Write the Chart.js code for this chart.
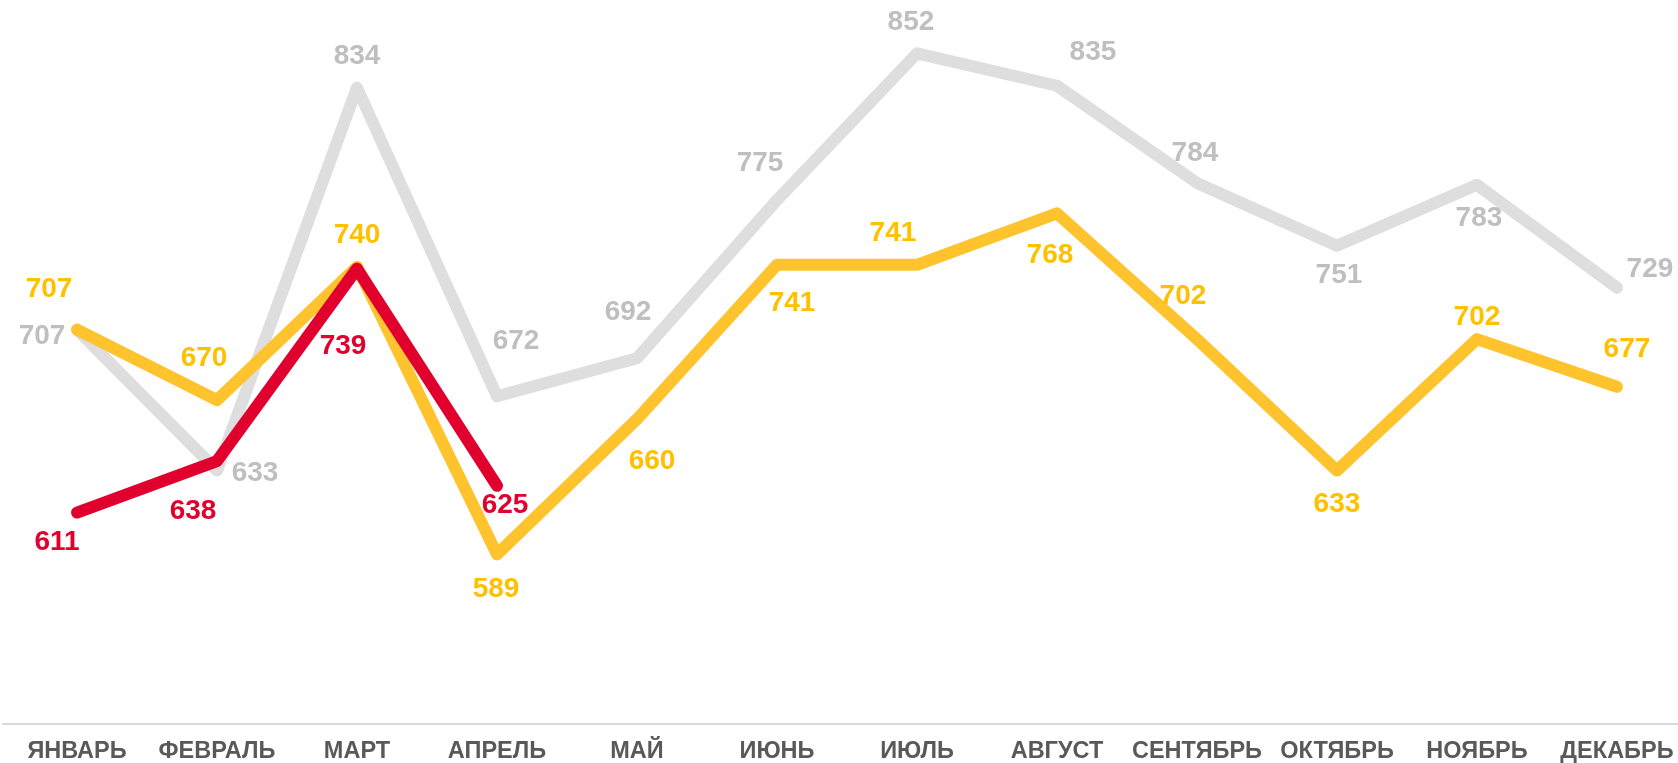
<!DOCTYPE html>
<html>
<head>
<meta charset="utf-8">
<script src="https://cdn.jsdelivr.net/npm/chart.js@4"></script>
<style>
    html, body { margin: 0; padding: 0; background: #fff; overflow: hidden; }
    #chart { display: block; }
</style>
</head>
<body>
<canvas id="chart" width="1678" height="763"></canvas>
<script>
const months = ["ЯНВАРЬ", "ФЕВРАЛЬ", "МАРТ", "АПРЕЛЬ", "МАЙ", "ИЮНЬ",
                "ИЮЛЬ", "АВГУСТ", "СЕНТЯБРЬ", "ОКТЯБРЬ", "НОЯБРЬ", "ДЕКАБРЬ"];

const greyValues   = [707, 633, 834, 672, 692, 775, 852, 835, 784, 751, 783, 729];
const yellowValues = [707, 670, 740, 589, 660, 741, 741, 768, 702, 633, 702, 677];
const redValues    = [611, 638, 739, 625, null, null, null, null, null, null, null, null];

// label offsets from the point (px), placed by hand like in the original
const greyLabelDx   = [-35, 38, 0, 19, -9, -17, -6, 36, -2, 2, 2, 33];
const greyLabelDy   = [7, 3, -31, -55, -46, -37, -31, -33, -30, 30, 33, -18];
const yellowLabelDx = [-28, -13, 0, -1, 15, 15, -24, -7, -14, 0, 0, 10];
const yellowLabelDy = [-40, -42, -31, 35, 42, 38, -32, 42, -43, 34, -22, -37];
const redLabelDx    = [-20, -24, -14, 8];
const redLabelDy    = [30, 50, 78, 19];

const toPoints = values => values.map((v, i) => ({ x: i, y: v }));

// ── value labels ──
const valueLabels = {
    id: "valueLabels",
    afterDatasetsDraw(chart) {
        const ctx = chart.ctx;
        ctx.save();
        ctx.font = "bold 28px 'Liberation Sans', Arial, sans-serif";
        ctx.textAlign = "center";
        ctx.textBaseline = "middle";
        chart.data.datasets.forEach((ds, di) => {
            const meta = chart.getDatasetMeta(di);
            ctx.fillStyle = ds.labelColor;
            meta.data.forEach((pt, i) => {
                const v = ds.data[i].y;
                if (v === null || v === undefined) return;
                const dx = ds.labelDx[i] || 0;
                const dy = ds.labelDy[i] || 0;
                ctx.fillText(String(v), pt.x + dx, pt.y + dy);
            });
        });
        ctx.restore();
    }
};

const lineStyle = {
    borderWidth: 12,
    borderCapStyle: "round",
    borderJoinStyle: "round",
    pointRadius: 0,
    pointHoverRadius: 0,
    tension: 0,
    spanGaps: false,
    fill: false
};

new Chart(document.getElementById("chart"), {
    type: "line",
    data: {
        datasets: [
            {
                ...lineStyle,
                label: "red",
                data: toPoints(redValues),
                borderColor: "#E1002D",
                labelColor: "#E1002D",
                labelDx: redLabelDx,
                labelDy: redLabelDy
            },
            {
                ...lineStyle,
                label: "yellow",
                data: toPoints(yellowValues),
                borderColor: "#FFC32E",
                labelColor: "#FFC000",
                labelDx: yellowLabelDx,
                labelDy: yellowLabelDy
            },
            {
                ...lineStyle,
                label: "grey",
                data: toPoints(greyValues),
                borderColor: "#DEDEDE",
                labelColor: "#BFBFBF",
                labelDx: greyLabelDx,
                labelDy: greyLabelDy
            }
        ]
    },
    options: {
        responsive: false,
        animation: false,
        layout: { autoPadding: false, padding: { left: 3, right: 0, top: 0, bottom: 0 } },
        scales: {
            x: {
                type: "linear",
                min: -0.5286,
                max: 11.436,
                afterBuildTicks: scale => {
                    scale.ticks = months.map((m, i) => ({ value: i }));
                },
                afterFit: scale => {
                    // axis band of the original, no extra side padding
                    scale.height = 39;
                    scale.paddingLeft = 0;
                    scale.paddingRight = 0;
                },
                grid: { display: false, drawTicks: false },
                border: { display: true, color: "#D9D9D9", width: 2 },
                ticks: {
                    autoSkip: false,
                    maxRotation: 0,
                    padding: 16,
                    color: "#595959",
                    font: { family: "'Liberation Sans', Arial, sans-serif", size: 23.5, weight: "bold", lineHeight: 1 },
                    callback: v => months[v] || ""
                }
            },
            y: {
                display: false,
                min: 500,
                max: 880
            }
        },
        plugins: {
            legend: { display: false },
            tooltip: { enabled: false }
        }
    },
    plugins: [valueLabels]
});
</script>
</body>
</html>
